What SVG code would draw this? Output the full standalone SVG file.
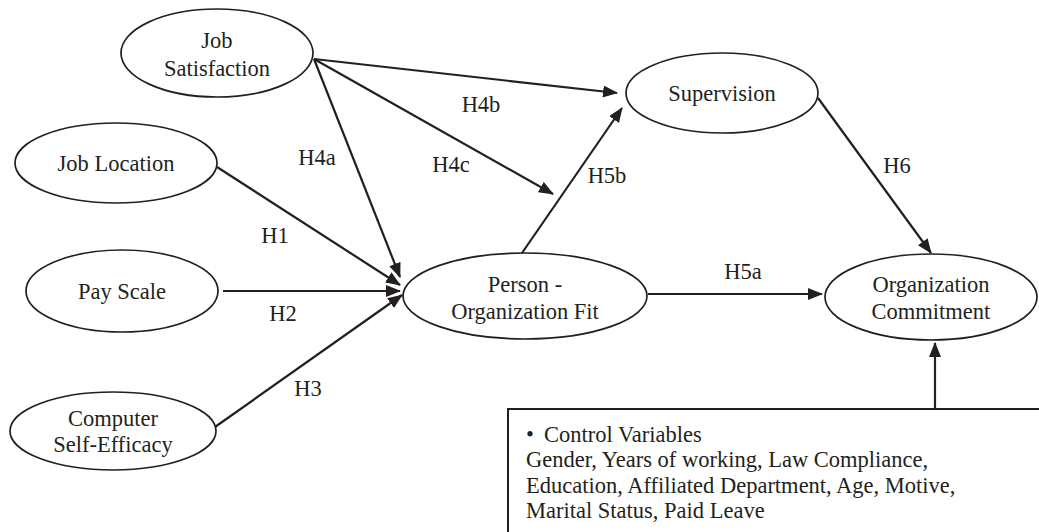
<svg xmlns="http://www.w3.org/2000/svg" width="1039" height="532" viewBox="0 0 1039 532">
<style>
  .node ellipse { fill: #fff; stroke: #231f20; stroke-width: 1.7; }
  text { font-family: "Liberation Serif", "Times New Roman", serif; font-size: 22.5px; fill: #231f20; }
  .c { text-anchor: middle; }
  .edge { stroke: #231f20; stroke-width: 2.2; fill: none; }
  .box { fill: #fff; stroke: #231f20; stroke-width: 2; }
</style>
<defs>
  <marker id="arr" markerUnits="userSpaceOnUse" markerWidth="15" markerHeight="12" viewBox="0 0 15 12" refX="14" refY="6" orient="auto">
    <path d="M0,0 L15,6 L0,12 z" fill="#231f20"/>
  </marker>
</defs>
<rect width="1039" height="532" fill="#fff"/>

<g id="connectors">
  <line class="edge" x1="314" y1="59" x2="617" y2="93" marker-end="url(#arr)"/>
  <line class="edge" x1="314" y1="59" x2="553" y2="194" marker-end="url(#arr)"/>
  <line class="edge" x1="314" y1="59" x2="400" y2="277" marker-end="url(#arr)"/>
  <line class="edge" x1="217" y1="167" x2="400" y2="285" marker-end="url(#arr)"/>
  <line class="edge" x1="223" y1="291" x2="400" y2="291" marker-end="url(#arr)"/>
  <line class="edge" x1="215" y1="427" x2="402" y2="295" marker-end="url(#arr)"/>
  <line class="edge" x1="522" y1="253" x2="622" y2="108" marker-end="url(#arr)"/>
  <line class="edge" x1="648" y1="294" x2="822" y2="294" marker-end="url(#arr)"/>
  <line class="edge" x1="818" y1="98" x2="931" y2="253" marker-end="url(#arr)"/>
  <line class="edge" x1="935" y1="409" x2="935" y2="343" marker-end="url(#arr)"/>
  <text class="c" x="481" y="112">H4b</text>
  <text class="c" x="451" y="172">H4c</text>
  <text class="c" x="317" y="165">H4a</text>
  <text class="c" x="275" y="243">H1</text>
  <text class="c" x="283" y="321">H2</text>
  <text class="c" x="308" y="396">H3</text>
  <text class="c" x="607" y="183">H5b</text>
  <text class="c" x="897" y="173">H6</text>
  <text class="c" x="743" y="279">H5a</text>
</g>

<g id="job-satisfaction" class="node">
  <ellipse cx="217" cy="53" rx="96" ry="44"/>
  <text class="c" x="217" y="48">Job</text>
  <text class="c" x="217" y="76">Satisfaction</text>
</g>
<g id="job-location" class="node">
  <ellipse cx="116" cy="163" rx="101" ry="40"/>
  <text class="c" x="116" y="171">Job Location</text>
</g>
<g id="pay-scale" class="node">
  <ellipse cx="122" cy="291" rx="96" ry="41"/>
  <text class="c" x="122" y="299">Pay Scale</text>
</g>
<g id="computer-self-efficacy" class="node">
  <ellipse cx="113" cy="431" rx="103" ry="39"/>
  <text class="c" x="113" y="426">Computer</text>
  <text class="c" x="113" y="452">Self-Efficacy</text>
</g>
<g id="person-organization-fit" class="node">
  <ellipse cx="525" cy="296" rx="122" ry="43"/>
  <text class="c" x="525" y="292">Person -</text>
  <text class="c" x="525" y="319">Organization Fit</text>
</g>
<g id="supervision" class="node">
  <ellipse cx="722" cy="93" rx="96" ry="40"/>
  <text class="c" x="722" y="101">Supervision</text>
</g>
<g id="organization-commitment" class="node">
  <ellipse cx="931" cy="297" rx="106" ry="43"/>
  <text class="c" x="931" y="292">Organization</text>
  <text class="c" x="931" y="319">Commitment</text>
</g>
<g id="control-variables">
  <rect class="box" x="508" y="409" width="560" height="160"/>
  <text x="526" y="442">•<tspan x="544">Control Variables</tspan></text>
  <text x="526" y="467">Gender, Years of working, Law Compliance,</text>
  <text x="526" y="493">Education, Affiliated Department, Age, Motive,</text>
  <text x="526" y="518">Marital Status, Paid Leave</text>
</g>
</svg>
